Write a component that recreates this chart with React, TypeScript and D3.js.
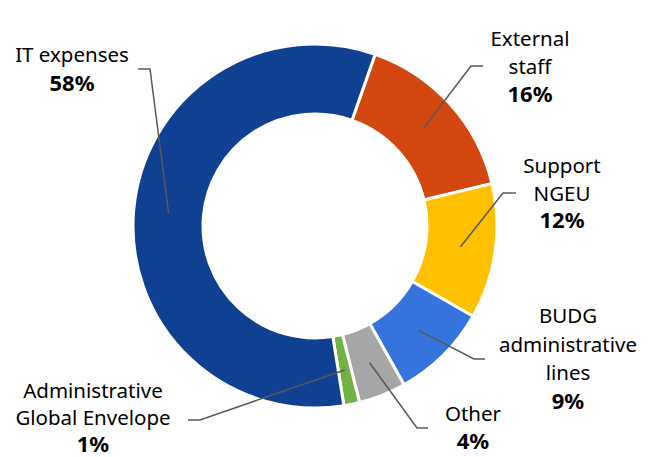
import * as d3 from 'd3'

// slice order runs clockwise, starting just right of 12 o'clock
const categories = ['External staff', 'Support NGEU', 'BUDG administrative lines', 'Other', 'Administrative Global Envelope', 'IT expenses']
const values = [15.9, 12.0, 8.6, 4.2, 1.4, 57.9]
const colors = ['#D24710', '#FFC000', '#3474DC', '#A6A6A6', '#71B244', '#0F4091']
const labelLines = [
  ['External', 'staff'],
  ['Support', 'NGEU'],
  ['BUDG', 'administrative', 'lines'],
  ['Other'],
  ['Administrative', 'Global Envelope'],
  ['IT expenses'],
]

// label placement: elbow of leader, end of leader, text centre x, first baseline, line step
const labelLayout = [
  { elbow: [471, 66], end: [483, 66], tx: 530, ty: 46, step: 28 },
  { elbow: [503, 193], end: [516, 193], tx: 562, ty: 173, step: 27.5 },
  { elbow: [474, 359], end: [485, 359], tx: 568, ty: 323, step: 28.5 },
  { elbow: [417, 428], end: [428, 428], tx: 473, ty: 421, step: 28 },
  { elbow: [200, 420], end: [188, 420], tx: 93, ty: 398, step: 27 },
  { elbow: [150, 69], end: [138, 69], tx: 72, ty: 62, step: 29 },
]

const width = 653
const height = 457
const cx = 315
const cy = 226
const outerR = 182
const innerR = 112

export default function App() {
  const total = d3.sum(values)
  const pie = d3
    .pie<number>()
    .sort(null)
    .startAngle((19.3 * Math.PI) / 180)
    .endAngle((19.3 * Math.PI) / 180 + 2 * Math.PI)
  const arcs = pie(values)
  const arc = d3.arc<d3.PieArcDatum<number>>().innerRadius(innerR).outerRadius(outerR)
  const fmt = d3.format('.0%')

  return (
    <svg
      width={width}
      height={height}
      style={{ position: 'absolute', left: 0, top: 0, background: '#fff' }}
      fontFamily="'Noto Sans', sans-serif"
    >
      <g transform={`translate(${cx},${cy})`}>
        {arcs.map((a, i) => (
          <path key={categories[i]} d={arc(a) ?? ''} fill={colors[i]} stroke="#fff" strokeWidth={3} />
        ))}
      </g>
      {arcs.map((a, i) => {
        const [x0, y0] = arc.centroid(a)
        const l = labelLayout[i]
        return (
          <polyline
            key={'l' + i}
            points={`${cx + x0},${cy + y0} ${l.elbow[0]},${l.elbow[1]} ${l.end[0]},${l.end[1]}`}
            fill="none"
            stroke="#595959"
            strokeWidth={1.5}
          />
        )
      })}
      {labelLines.map((lines, i) => {
        const l = labelLayout[i]
        return (
          <text key={'t' + i} textAnchor="middle" fontSize={20.5} fill="#000">
            {lines.map((s, j) => (
              <tspan key={j} x={l.tx} y={l.ty + j * l.step}>
                {s}
              </tspan>
            ))}
            <tspan x={l.tx} y={l.ty + lines.length * l.step} fontWeight="bold" fontSize={22}>
              {fmt(values[i] / total)}
            </tspan>
          </text>
        )
      })}
    </svg>
  )
}
